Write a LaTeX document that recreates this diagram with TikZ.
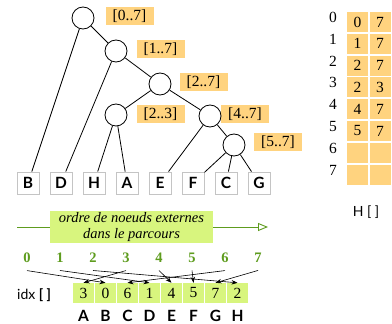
\documentclass[tikz,border=0pt]{standalone}
\usepackage{fontspec}
\setmainfont{Liberation Serif}
\setsansfont{Lato}
\usetikzlibrary{arrows.meta}
\definecolor{rangeorange}{HTML}{FFD37F}
\definecolor{lightgreen}{HTML}{D8F57E}
\definecolor{darkgreen}{HTML}{5E9C1E}
\definecolor{leafgray}{HTML}{C4C4C4}

\begin{document}
\begin{tikzpicture}[x=1pt,y=-1pt,
  inode/.style={circle,draw,fill=white,minimum size=22pt,inner sep=0pt,line width=0.8pt},
  rangebox/.style={fill=rangeorange,minimum width=48pt,minimum height=18pt,inner sep=0pt,
    font=\fontsize{15.5}{18}\selectfont},
  leaf/.style={draw=leafgray,line width=0.9pt,fill=white,minimum size=22pt,inner sep=0pt,
    font=\sffamily\bfseries\fontsize{15.5}{18}\selectfont},
  edge/.style={line width=0.8pt},
  posnum/.style={text=darkgreen,inner sep=0pt,font=\bfseries\fontsize{14.5}{16}\selectfont},
  idxcell/.style={fill=lightgreen,minimum width=21pt,minimum height=20pt,inner sep=0pt,
    font=\fontsize{15.5}{18}\selectfont},
  hcell/.style={fill=rangeorange,minimum width=21pt,minimum height=20pt,inner sep=0pt,
    font=\fontsize{15.5}{18}\selectfont},
  rowlabel/.style={inner sep=0pt,font=\fontsize{15.5}{18}\selectfont},
  letter/.style={inner sep=0pt,font=\sffamily\bfseries\fontsize{15.5}{18}\selectfont},
  sflabel/.style={inner sep=0pt,font=\sffamily\fontsize{14}{16}\selectfont},
  link/.style={line width=0.6pt,-{Stealth[length=6pt,width=4.5pt]}}
]
\useasboundingbox (0,0) rectangle (392,324);

% interval labels of the internal nodes
\node[rangebox] (r0) at (129.5,16) {[0..7]};
\node[rangebox] (r1) at (160.5,49) {[1..7]};
\node[rangebox] (r2) at (203.5,82) {[2..7]};
\node[rangebox] (r3) at (160.5,114) {[2..3]};
\node[rangebox] (r4) at (245,114) {[4..7]};
\node[rangebox] (r5) at (278,142) {[5..7]};

% internal nodes
\node[inode] (t0) at (83,18) {};
\node[inode] (t1) at (116,51) {};
\node[inode] (t2) at (160,84) {};
\node[inode] (t3) at (116,115) {};
\node[inode] (t4) at (210,116) {};
\node[inode] (t5) at (234,145) {};

% external nodes
\foreach \l [count=\k from 0] in {B,D,H,A,E,F,C,G}
  \node[leaf] (l\l) at (28+33*\k,183) {\l};

% tree edges
\draw[edge] (t0) -- (lB);
\draw[edge] (t0) -- (t1);
\draw[edge] (t1) -- (lD);
\draw[edge] (t1) -- (t2);
\draw[edge] (t2) -- (t3);
\draw[edge] (t2) -- (t4);
\draw[edge] (t3) -- (lH);
\draw[edge] (t3) -- (lA);
\draw[edge] (t4) -- (lE);
\draw[edge] (t4) -- (t5);
\draw[edge] (t5) -- (lF);
\draw[edge] (t5) -- (lC);
\draw[edge] (t5) -- (lG);

% traversal order arrow
\coordinate (gs) at (17,227);
\coordinate (ge) at (268,227);
\draw[darkgreen,line width=0.9pt,-{Triangle[open,length=10pt,width=8pt]}] (gs) -- (ge);
\node[fill=lightgreen,minimum width=163pt,minimum height=32pt,inner sep=0pt,align=center,
  font=\itshape\fontsize{14.5}{16}\selectfont] (order) at (131.5,227)
  {ordre de noeuds externes\\dans le parcours};

% positions in the traversal
\foreach \k in {0,...,7}
  \node[posnum] (num\k) at (27+33*\k,257.5) {\k};

% idx array
\node[sflabel,anchor=west] (idxlab) at (17,295) {idx \textbf{[ ]}};
\foreach \l/\v [count=\k from 0] in {A/3,B/0,C/6,D/1,E/4,F/5,G/7,H/2}{
  \node[idxcell] (c\l) at (83.5+22*\k,293) {\v};
  \node[letter] (let\l) at (83.5+22*\k,316) {\l};
}

% links from traversal position to idx cell
\foreach \l [count=\k from 0] in {B,D,H,A,E,F,C,G}
  \draw[link] ([yshift=-8pt]num\k.south) -- (c\l.north);

% H array
\foreach \a/\b [count=\k from 0] in {0/7,1/7,2/7,2/3,4/7,5/7,/,/}{
  \node[rowlabel] (hl\k) at (333,17.5+21.8*\k) {\k};
  \node[hcell] (ha\k) at (357.5,22+21.8*\k) {\a};
  \node[hcell] (hb\k) at (380,22+21.8*\k) {\b};
}
\node[sflabel] (hlab) at (366,212) {H [ ]};
\end{tikzpicture}
\end{document}
